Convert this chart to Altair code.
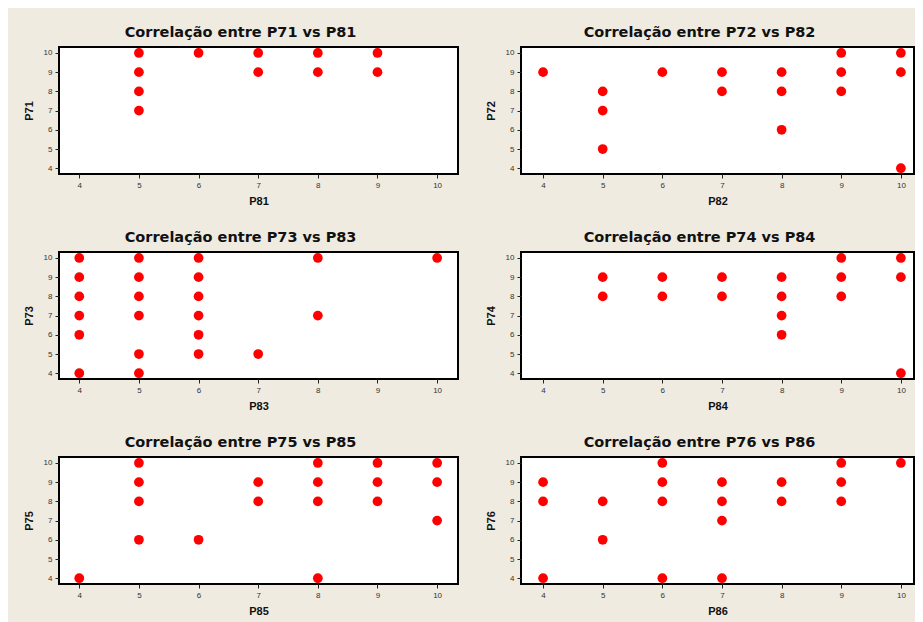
import altair as alt
import pandas as pd

# ---- data (x = P8*, y = P7*) ----
p81 = [5, 5, 5, 5, 6, 7, 7, 8, 8, 9, 9]
p71 = [10, 9, 8, 7, 10, 10, 9, 10, 9, 10, 9]

p82 = [4, 5, 5, 5, 6, 7, 7, 8, 8, 8, 9, 9, 9, 10, 10, 10]
p72 = [9, 8, 7, 5, 9, 9, 8, 9, 8, 6, 10, 9, 8, 10, 9, 4]

p83 = [4, 4, 4, 4, 4, 4, 5, 5, 5, 5, 5, 5, 6, 6, 6, 6, 6, 6, 7, 8, 8, 10]
p73 = [10, 9, 8, 7, 6, 4, 10, 9, 8, 7, 5, 4, 10, 9, 8, 7, 6, 5, 5, 10, 7, 10]

p84 = [5, 5, 6, 6, 7, 7, 8, 8, 8, 8, 9, 9, 9, 10, 10, 10]
p74 = [9, 8, 9, 8, 9, 8, 9, 8, 7, 6, 10, 9, 8, 10, 9, 4]

p85 = [4, 5, 5, 5, 5, 6, 7, 7, 8, 8, 8, 8, 9, 9, 9, 10, 10, 10]
p75 = [4, 10, 9, 8, 6, 6, 9, 8, 10, 9, 8, 4, 10, 9, 8, 10, 9, 7]

p86 = [4, 4, 4, 5, 5, 6, 6, 6, 6, 7, 7, 7, 7, 8, 8, 9, 9, 9, 10]
p76 = [9, 8, 4, 8, 6, 10, 9, 8, 4, 9, 8, 7, 4, 9, 8, 10, 9, 8, 10]

tick_values = [4, 5, 6, 7, 8, 9, 10]

panels = [
    ("P81", p81, "P71", p71),
    ("P82", p82, "P72", p72),
    ("P83", p83, "P73", p73),
    ("P84", p84, "P74", p74),
    ("P85", p85, "P75", p75),
    ("P86", p86, "P76", p76),
]

charts = []
for i, (xname, xs, yname, ys) in enumerate(panels):
    left_col = i % 2 == 0
    width = 399 if left_col else 393
    xdomain = [3.66, 10.35] if left_col else [3.63, 10.22]
    df = pd.DataFrame({xname: xs, yname: ys})
    c = (
        alt.Chart(
            df,
            title=alt.TitleParams(
                f"Correlação entre {yname} vs {xname}",
                font="DejaVu Sans",
                fontSize=14.5,
                fontWeight="bold",
                color="#111111",
                baseline="alphabetic",
                offset=-4,
                anchor="middle",
                frame="bounds",
            ),
        )
        .mark_circle(size=95, color="#FF0000", opacity=1)
        .encode(
            x=alt.X(
                f"{xname}:Q",
                scale=alt.Scale(domain=xdomain, nice=False, zero=False),
                axis=alt.Axis(values=tick_values, title=xname, labelPadding=3, titlePadding=6),
            ),
            y=alt.Y(
                f"{yname}:Q",
                scale=alt.Scale(domain=[3.7, 10.31], nice=False, zero=False),
                axis=alt.Axis(values=tick_values, title=yname, labelPadding=3, titlePadding=9),
            ),
        )
        .properties(width=width, height=127)
    )
    charts.append(c)

chart = (
    alt.concat(*charts, columns=2, spacing={"row": 78, "column": 63}, bounds="flush")
    .properties(
        background="#EFEBE1",
        padding={"left": 14, "top": 15, "right": 0, "bottom": 10},
    )
    .configure_view(stroke="black", strokeWidth=2, fill="white")
    .configure_axis(
        domain=False,
        grid=False,
        labelFont="Liberation Sans",
        labelFontSize=8,
        labelColor="#333333",
        labelFlush=False,
        tickColor="#222222",
        tickSize=4,
        tickWidth=1,
        titleFont="Liberation Sans",
        titleFontSize=11,
        titleFontWeight="bold",
        titleColor="#111111",
    )
)

chart.save("out.html", embed_options={"renderer": "svg", "actions": False})
